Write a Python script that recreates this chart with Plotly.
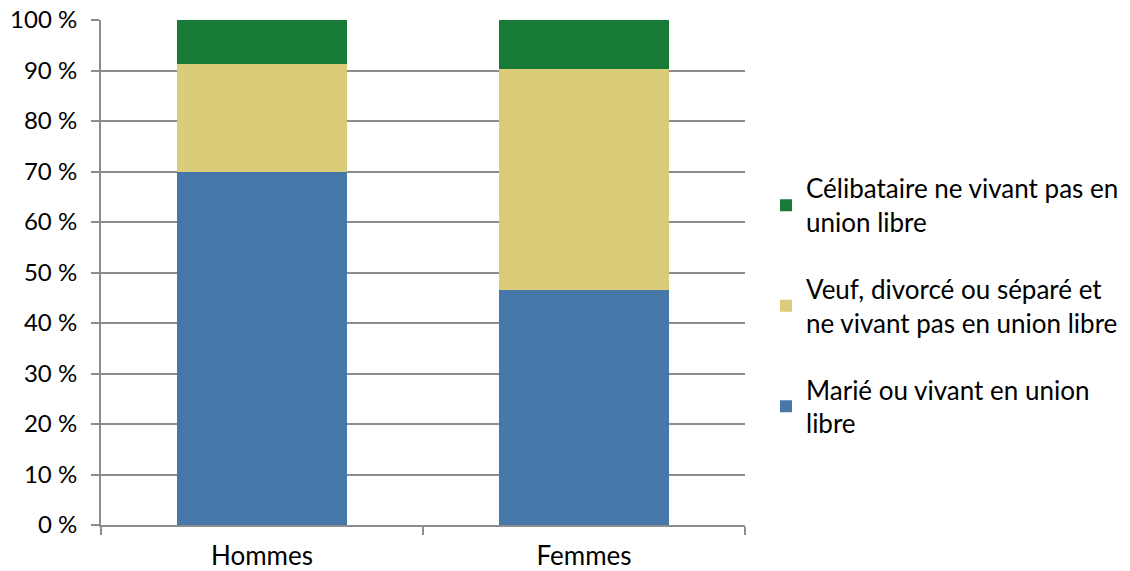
import plotly.graph_objects as go

categories = ["Hommes", "Femmes"]
marie = [70.0, 46.5]
veuf = [21.3, 43.7]
celib = [8.7, 9.8]
series_names = [
    "Marié ou vivant en union<br>libre",
    "Veuf, divorcé ou séparé et<br>ne vivant pas en union libre",
    "Célibataire ne vivant pas en<br>union libre",
]
colors = ["#4577A9", "#DBCC7A", "#177A36"]
tick_vals = [0, 10, 20, 30, 40, 50, 60, 70, 80, 90, 100]
tick_text = ["0 %", "10 %", "20 %", "30 %", "40 %", "50 %", "60 %", "70 %", "80 %", "90 %", "100 %"]

fig = go.Figure()
for i, (name, vals) in enumerate(zip(series_names, [marie, veuf, celib])):
    fig.add_trace(go.Bar(
        x=categories, y=vals, name=name, marker_color=colors[i],
        marker_line_width=0, legendgroup="g%d" % i, legendrank=3 - i,
    ))

font_family = "Lato, 'Open Sans', sans-serif"
fig.update_layout(
    barmode="stack",
    bargap=0.475,
    width=1130, height=571,
    margin=dict(l=101, r=385, t=20, b=46, autoexpand=False),
    plot_bgcolor="white", paper_bgcolor="white",
    font=dict(family=font_family, size=25, color="#000000"),
    legend=dict(
        x=1.0326, y=0.434, xanchor="left", yanchor="middle",
        traceorder="grouped", tracegroupgap=30,
        font=dict(size=26), itemwidth=30,
    ),
    showlegend=True,
)
fig.update_yaxes(
    range=[0, 100], tickvals=tick_vals, ticktext=tick_text,
    showgrid=True, gridcolor="#8C8C8C", gridwidth=1.5,
    showline=True, linecolor="#8C8C8C", linewidth=2,
    ticks="outside", ticklen=8, tickcolor="#8C8C8C", tickwidth=1.5,
    zeroline=False, tickfont=dict(size=24), automargin=False,
    ticklabeloverflow="allow", ticklabelstandoff=9,
)
fig.update_xaxes(
    showline=True, linecolor="#8C8C8C", linewidth=2,
    ticks="outside", ticklen=8, tickcolor="#8C8C8C", tickwidth=1.5,
    tickson="boundaries", showgrid=False, tickfont=dict(size=26),
    automargin=False, ticklabeloverflow="allow", ticklabelstandoff=7,
)
fig.write_html(
    "out.html",
    config={"displayModeBar": False},
    post_script="document.body.style.margin='0';",
)
